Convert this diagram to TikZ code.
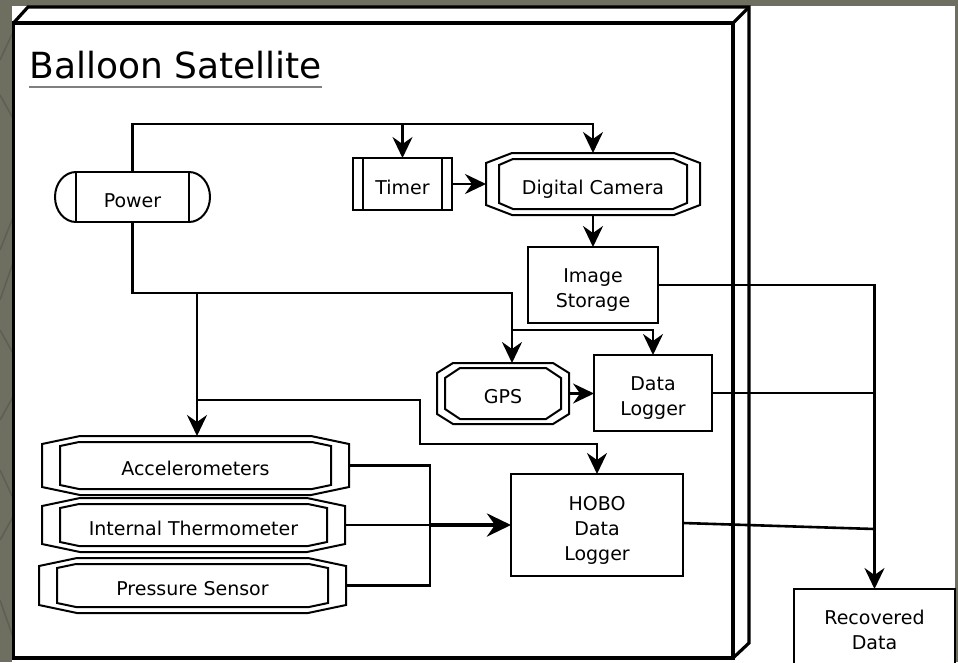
\documentclass[tikz,border=0pt]{standalone}
\usepackage{fontspec}
\setmainfont{DejaVu Sans}
\usetikzlibrary{arrows.meta,calc}

\definecolor{pagegrey}{RGB}{110,111,96}
\definecolor{pageline}{RGB}{94,95,82}
\definecolor{rulegrey}{RGB}{128,128,128}

% struts that put label lines on a fixed 25pt grid:
% one gives the first line its height, the other the last line its depth
\newcommand\firststrut{\rule{0pt}{25pt}}
\newcommand\laststrut{\rule[-5pt]{0pt}{5pt}}

% octagon outline round a node: #1 node, #2/#3 inset x/y, #4/#5 corner cut x/y
\newcommand\octoutline[5]{%
  \draw[octline]
    ([shift={(#2+#4,#3)}]#1.north west) -- ([shift={(-#2-#4,#3)}]#1.north east)
    -- ([shift={(-#2,#3+#5)}]#1.north east) -- ([shift={(-#2,-#3-#5)}]#1.south east)
    -- ([shift={(-#2-#4,-#3)}]#1.south east) -- ([shift={(#2+#4,-#3)}]#1.south west)
    -- ([shift={(#2,-#3-#5)}]#1.south west) -- ([shift={(#2,#3+#5)}]#1.north west)
    -- cycle;}

\begin{document}
\begin{tikzpicture}[x=1pt,y=-1pt,
  every node/.style={inner sep=0pt,outer sep=0pt},
  txt/.style={font=\fontsize{19pt}{25pt}\selectfont, align=center},
  sq/.style={txt, draw, line width=2.6pt},
  shell/.style={line width=3.2pt, line join=miter},
  octline/.style={line width=2pt, line join=miter},
  wire/.style={line width=2.6pt},
  arr/.style={wire, -{Stealth[length=21pt,width=20pt,inset=7pt]}},
  busarr/.style={line width=4pt, -{Stealth[length=24pt,width=23pt,inset=8pt]}},
]
\useasboundingbox (0,0) rectangle (958,662);
\clip (0,0) rectangle (958,662);

% page background
\fill[pagegrey] (0,0) rectangle (958,662);
\begin{scope}
  \clip (0,0) rectangle (12,662);
  \draw[pageline, line width=1.5pt]
    (0,60) -- (14,30)  (0,95) -- (14,120)  (0,250) -- (14,215)
    (0,300) -- (14,260) (0,330) -- (14,355) (0,420) -- (14,395)
    (0,470) -- (14,500) (0,540) -- (14,515) (0,600) -- (14,640);
\end{scope}
\fill[white] (12,6) rectangle (955,662);

% 3D frame of the satellite
\draw[shell] (13.5,23) rectangle (733,658);
\draw[shell] (13.5,23) -- (28,7) -- (749,7) -- (749,643) -- (733,658);
\draw[shell] (733,23) -- (749,7);

% title
\node[font=\fontsize{36pt}{40pt}\selectfont, anchor=base west] (title) at (29.5,78) {Balloon Satellite};
\draw[rulegrey, line width=2.2pt] ([shift={(-0.5,9)}]title.base west) -- ([shift={(0,9)}]title.base east);

% nodes
\node[txt, minimum width=113pt, minimum height=50pt] (power) at (132.5,197) {\firststrut Power\laststrut};
\draw[wire] (power.north west) rectangle (power.south east);
\draw[octline] (power.north west) arc[start angle=270, end angle=90, x radius=21, y radius=25];
\draw[octline] (power.north east) arc[start angle=270, end angle=450, x radius=21, y radius=25];

\node[sq, minimum width=99pt, minimum height=52pt] (timer) at (402.5,184) {\firststrut Timer\laststrut};
\draw[wire] ([xshift=10pt]timer.north west) -- ([xshift=10pt]timer.south west);
\draw[wire] ([xshift=-10pt]timer.north east) -- ([xshift=-10pt]timer.south east);

\node[txt, minimum width=214pt, minimum height=62pt] (cam) at (593,184) {\firststrut Digital Camera\laststrut};
\octoutline{cam}{0}{0}{26}{10}
\octoutline{cam}{13}{6}{14}{6}

\node[sq, minimum width=130pt, minimum height=76pt] (store) at (593,285) {\firststrut Image\\Storage\laststrut};

\node[txt, minimum width=132pt, minimum height=61pt] (gps) at (503,393.5) {\firststrut GPS\laststrut};
\octoutline{gps}{0}{0}{16}{10}
\octoutline{gps}{8}{5}{15}{10}

\node[sq, minimum width=118pt, minimum height=76pt] (logger) at (653,393) {\firststrut Data\\Logger\laststrut};

\node[sq, minimum width=172pt, minimum height=102pt] (hobo) at (597,525) {\firststrut HOBO\\Data\\Logger\laststrut};

\node[txt, minimum width=307pt, minimum height=59pt] (acc) at (195.5,465.5) {\firststrut Accelerometers\laststrut};
\node[txt, minimum width=303pt, minimum height=54pt] (therm) at (193.5,525) {\firststrut Internal Thermometer\laststrut};
\node[txt, minimum width=307pt, minimum height=55pt] (press) at (192.5,585.5) {\firststrut Pressure Sensor\laststrut};
\foreach \s in {acc,therm,press}{
  \octoutline{\s}{0}{0}{38}{8}
  \octoutline{\s}{18}{6}{19}{4}
}

\node[sq, minimum width=161pt, minimum height=75pt] (rec) at (874.5,626.5) {\firststrut Recovered\\Data\laststrut};

% power distribution
\coordinate (topbus) at (132.5,124);
\coordinate (midbus) at (132.5,293);
\coordinate (gpsjoin) at (512,330);
\coordinate (accbr) at (197,293);
\coordinate (hbr) at (197,400);
\coordinate (hbend) at (420,444);
\draw[arr] (power.north) -- (topbus) -| (cam.north);
\draw[arr] (timer.north |- topbus) -- (timer.north);
\draw[wire] (power.south) -- (midbus) -| (gpsjoin);
\draw[arr] (gpsjoin) -| (logger.north);
\draw[arr] (gpsjoin) -- (gpsjoin |- gps.north);
\draw[arr] (accbr) -- (accbr |- acc.north);
\draw[arr] (hbr) -| (hbend) -| (hobo.north);

% data flow
\draw[arr] (timer.east) -- (cam.west |- timer.east);
\draw[arr] (cam.south) -- (store.north);
\draw[arr] (gps.east) -- (logger.west |- gps.east);
\draw[arr] (store.east) -| (rec.north);
\draw[wire] (logger.east) -- (logger.east -| rec.north);
\draw[wire] ([yshift=2pt]hobo.east) -- (rec.north |- 0,529);

% sensor bus into the HOBO logger
\coordinate (sbus) at (430,525);
\draw[wire] (acc.east) -| (sbus);
\draw[wire] (press.east) -| (sbus);
\draw[wire] (therm.east) -- (sbus);
\draw[busarr] (sbus) -- (hobo.west);
\end{tikzpicture}
\end{document}
